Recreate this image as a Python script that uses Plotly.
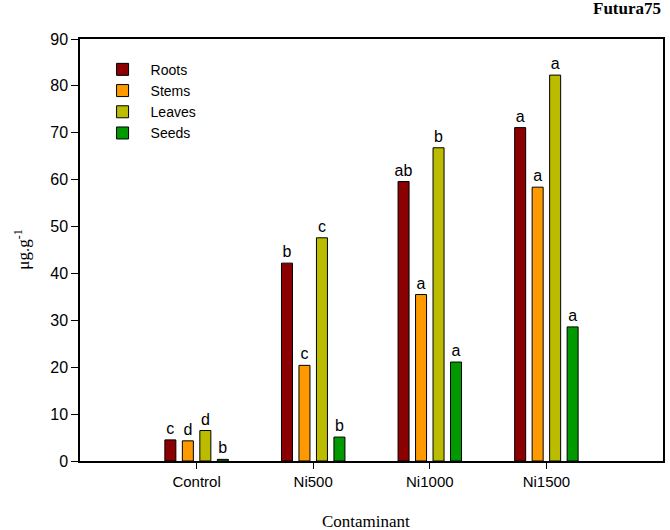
import plotly.graph_objects as go

categories = ["Control", "Ni500", "Ni1000", "Ni1500"]
series_names = ["Roots", "Stems", "Leaves", "Seeds"]
roots = [4.5, 42.2, 59.6, 71.1]
stems = [4.3, 20.4, 35.5, 58.4]
leaves = [6.5, 47.6, 66.8, 82.3]
seeds = [0.35, 5.1, 21.1, 28.6]
roots_letters = ["c", "b", "ab", "a"]
stems_letters = ["d", "c", "a", "a"]
leaves_letters = ["d", "c", "b", "a"]
seeds_letters = ["b", "b", "a", "a"]
y_ticks = [0, 10, 20, 30, 40, 50, 60, 70, 80, 90]

colors = ["#8B0000", "#FF9900", "#BBBB00", "#009900"]
values = [roots, stems, leaves, seeds]
letters = [roots_letters, stems_letters, leaves_letters, seeds_letters]

xpos = list(range(len(categories)))

fig = go.Figure()
for name, vals, lab, col in zip(series_names, values, letters, colors):
    fig.add_trace(go.Bar(
        x=xpos, y=vals, name=name, text=lab,
        textposition="outside", constraintext="none", cliponaxis=False,
        textfont=dict(family="Liberation Sans, Arial", size=16, color="black"),
        marker=dict(color=col, line=dict(color="black", width=1)),
    ))

fig.update_layout(
    width=670, height=530,
    margin=dict(l=80, r=5, t=39, b=69),
    paper_bgcolor="white", plot_bgcolor="white",
    barmode="group", bargap=0.4, bargroupgap=0.37,
    showlegend=True,
    legend=dict(x=0.025, y=0.965, xanchor="left", yanchor="top",
                font=dict(family="Liberation Sans, Arial", size=14, color="black"),
                bgcolor="rgba(0,0,0,0)", tracegroupgap=2, itemwidth=46),
    font=dict(family="Liberation Sans, Arial", size=15, color="black"),
)
fig.update_xaxes(
    range=[-1, 4], tickmode="array", tickvals=xpos, ticktext=categories,
    showgrid=False, zeroline=False, showline=True, linecolor="black", linewidth=1.5,
    mirror=True, ticks="outside", ticklen=6, tickcolor="black",
    tickfont=dict(family="Liberation Sans, Arial", size=15),
)
fig.update_yaxes(
    range=[0, 90], tickmode="array", tickvals=y_ticks,
    showgrid=False, zeroline=False, showline=True, linecolor="black", linewidth=1.5,
    mirror=True, ticks="outside", ticklen=7, tickcolor="black",
    tickfont=dict(family="Liberation Sans, Arial", size=16),
)
fig.add_annotation(text="Contaminant", xref="paper", yref="paper", x=0.49, y=-0.115,
                   xanchor="center", yanchor="top", showarrow=False,
                   font=dict(family="Liberation Serif, Times New Roman", size=17, color="black"))
fig.add_annotation(text="μg.g<sup>-1</sup>", xref="paper", yref="paper", x=-0.1, y=0.5,
                   xanchor="center", yanchor="middle", textangle=-90, showarrow=False,
                   font=dict(family="Liberation Serif, Times New Roman", size=17, color="black"))
fig.add_annotation(text="<b>Futura75</b>", xref="paper", yref="paper", x=1.0, y=1.045,
                   xanchor="right", yanchor="bottom", showarrow=False,
                   font=dict(family="Liberation Serif, Times New Roman", size=17, color="black"))

fig.write_html("out.html", config={"displayModeBar": False},
               post_script="document.body.style.margin='0';document.body.style.overflow='hidden';")
